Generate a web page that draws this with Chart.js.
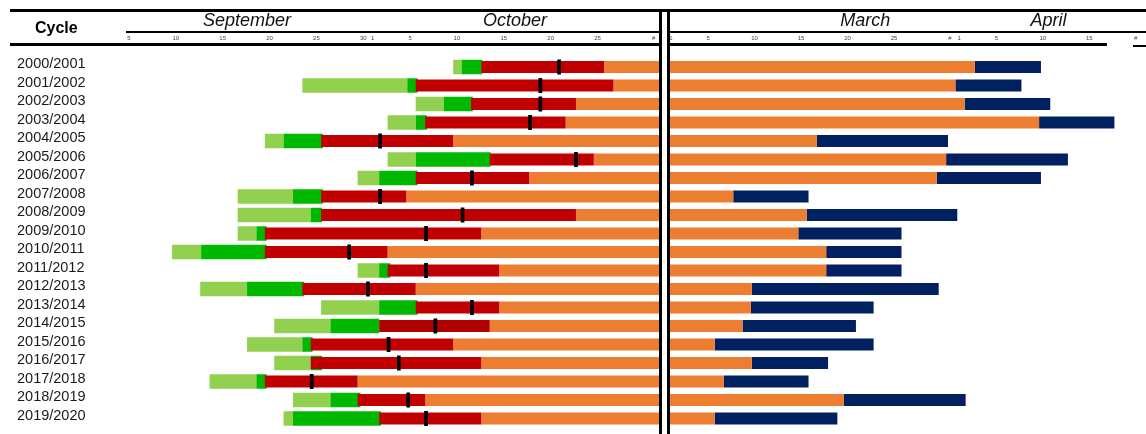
<!DOCTYPE html>
<html>
<head>
<meta charset="utf-8">
<title>Cycle chart</title>
<script src="https://cdn.jsdelivr.net/npm/chart.js@4.4.1/dist/chart.umd.min.js"></script>
<style>
  html, body { margin: 0; padding: 0; background: #fff; }
  #wrap { position: relative; width: 1146px; height: 434px; overflow: hidden; }
  canvas { position: absolute; top: 0; }
  #autumn { left: 0; }
  #spring { left: 669px; }
  .rule { position: absolute; background: #000; }
  #cycle { position: absolute; left: 35px; top: 20px; font: bold 16px/16px 'Liberation Sans', Arial, sans-serif; color: #000; }
</style>
</head>
<body>
<div id="wrap">
  <canvas id="autumn" width="660" height="434"></canvas>
  <canvas id="spring" width="477" height="434"></canvas>
  <div class="rule" style="left:10px;top:9px;width:1136px;height:3px"></div>
  <div class="rule" style="left:10px;top:43px;width:650px;height:3px"></div>
  <div class="rule" style="left:668px;top:43px;width:439px;height:3px"></div>
  <div class="rule" style="left:1133px;top:45px;width:13px;height:2px"></div>
  <div class="rule" style="left:659px;top:9px;width:3px;height:425px"></div>
  <div class="rule" style="left:667px;top:9px;width:3px;height:425px"></div>
  <div id="cycle">Cycle</div>
</div>
<script>
// Cycles (rows)
const cycles = ['2000/2001', '2001/2002', '2002/2003', '2003/2004', '2004/2005',
                '2005/2006', '2006/2007', '2007/2008', '2008/2009', '2009/2010',
                '2010/2011', '2011/2012', '2012/2013', '2013/2014', '2014/2015',
                '2015/2016', '2016/2017', '2017/2018', '2018/2019', '2019/2020'];

// Autumn phases, days counted from 31 August (1 = 1 Sep, 31 = 1 Oct)
const lightGreenStart = [39.6, 23.5, 35.6, 32.6, 19.5, 32.6, 29.4, 16.6, 16.6, 16.6,
                          9.6, 29.4, 12.6, 25.5, 20.5, 17.6, 20.5, 13.6, 22.5, 21.5];
const greenStart      = [40.5, 34.7, 38.6, 35.6, 21.5, 35.6, 31.7, 22.5, 24.4, 18.6,
                         12.7, 31.7, 17.6, 31.7, 26.5, 23.5, 24.4, 18.6, 26.5, 22.5];
const greenEnd        = [42.7, 35.8, 41.7, 36.8, 25.7, 43.6, 35.8, 25.7, 25.6, 19.7,
                         19.7, 32.9, 23.7, 35.8, 31.7, 24.6, 25.6, 19.7, 29.7, 31.9];
const redStart        = [42.6, 35.6, 41.5, 36.6, 25.5, 43.5, 35.6, 25.5, 25.5, 19.5,
                         19.5, 32.6, 23.5, 35.6, 31.7, 24.4, 24.4, 19.5, 29.4, 31.7];
const orangeStart     = [55.7, 56.7, 52.7, 51.6, 39.6, 54.6, 47.7, 34.6, 52.7, 42.6,
                         32.6, 44.5, 35.6, 44.5, 43.5, 39.6, 42.6, 29.4, 36.6, 42.6];
const markDay         = [50.9, 48.9, 48.9, 47.8, 31.8, 52.7, 41.6, 31.8, 40.6, 36.7,
                         28.5, 36.7, 30.5, 41.6, 37.7, 32.7, 33.8, 24.5, 34.8, 36.7];

// Spring phases, days counted from end of February (1 = 1 Mar, 32 = 1 Apr)
const orangeEnd = [33.7, 31.6, 32.6, 40.6, 16.7, 30.6, 29.6,  7.7, 15.6, 14.7,
                   17.7, 17.7,  9.7,  9.6,  8.7,  5.7,  9.7,  6.7, 19.6,  5.7];
const navyEnd   = [40.8, 38.7, 41.8, 48.7, 30.8, 43.7, 40.8, 15.8, 31.8, 25.8,
                   25.8, 25.8, 29.8, 22.8, 20.9, 22.8, 17.9, 15.8, 32.7, 18.9];

// Axis ranges and tick labels
const autumnMin = 4.79, autumnMax = 61.56;
const springMin = 0.79, springMax = 52.1;
const autumnTicks = [5, 10, 15, 20, 25, 30, 31, 35, 40, 45, 50, 55, 61];
const autumnTickLabels = ['5', '10', '15', '20', '25', '30', '1', '5', '10', '15', '20', '25', '#'];
const springTicks = [1, 5, 10, 15, 20, 25, 31, 32, 36, 41, 46, 51];
const springTickLabels = ['1', '5', '10', '15', '20', '25', '#', '1', '5', '10', '15', '#'];
const autumnMonths = ['September', 'October'];
const autumnMonthPos = [17.6, 46.2];
const springMonths = ['March', 'April'];
const springMonthPos = [21.9, 41.6];
const darkRedCycles = ['2014/2015'];

const FONT = "'Liberation Sans', Arial, sans-serif";
const markHalf = 0.2;

function spans(starts, ends) {
    return starts.map((s, i) => [s, Array.isArray(ends) ? ends[i] : ends]);
}

function bar(label, data, color, thickness) {
    return {
        label: label,
        data: data,
        backgroundColor: color,
        grouped: false,
        categoryPercentage: 1,
        barPercentage: thickness,
        borderWidth: 0
    };
}

function makeChart(canvasId, cfg) {
    const ctx = document.getElementById(canvasId).getContext('2d');
    return new Chart(ctx, {
        type: 'bar',
        data: { labels: cycles, datasets: cfg.datasets },
        options: {
            indexAxis: 'y',
            responsive: false,
            animation: false,
            layout: { padding: cfg.padding },
            plugins: { legend: { display: false }, tooltip: { enabled: false } },
            scales: {
                y: {
                    type: 'category',
                    display: cfg.showY,
                    offset: true,
                    grid: { display: false },
                    border: { display: false },
                    ticks: {
                        autoSkip: false,
                        crossAlign: 'far',
                        labelOffset: -3,
                        padding: 0,
                        color: '#1a1a1a',
                        font: { family: FONT, size: 14.5 }
                    },
                    afterFit: s => {
                        s.width = cfg.showY ? 110 : 0;
                        s.paddingTop = 0;
                        s.paddingBottom = 0;
                    }
                },
                month: {
                    type: 'linear',
                    axis: 'x',
                    position: 'top',
                    weight: 2,
                    min: cfg.min,
                    max: cfg.max,
                    grid: { display: false, drawTicks: false },
                    border: { display: true, color: '#000', width: 2 },
                    afterBuildTicks: s => { s.ticks = cfg.monthPos.map(v => ({ value: v })); },
                    ticks: {
                        autoSkip: false,
                        maxRotation: 0,
                        padding: 0,
                        color: '#111',
                        font: { family: FONT, size: 18, style: 'italic', lineHeight: 1.2 },
                        callback: (v, i) => cfg.months[i]
                    },
                    afterFit: s => { s.height = 20; s.paddingLeft = 0; s.paddingRight = 0; }
                },
                x: {
                    type: 'linear',
                    position: 'top',
                    weight: 1,
                    min: cfg.min,
                    max: cfg.max,
                    grid: { display: false, drawTicks: false },
                    border: { display: false },
                    afterBuildTicks: s => { s.ticks = cfg.ticks.map(v => ({ value: v })); },
                    ticks: {
                        autoSkip: false,
                        maxRotation: 0,
                        padding: 16.15,
                        color: '#444',
                        font: { family: FONT, size: 6, lineHeight: 1.2 },
                        callback: (v, i) => cfg.tickLabels[i]
                    },
                    afterFit: s => { s.height = 25.75; s.paddingLeft = 0; s.paddingRight = 0; }
                }
            }
        }
    });
}

// Left panel: September / October
makeChart('autumn', {
    showY: true,
    min: autumnMin, max: autumnMax,
    ticks: autumnTicks, tickLabels: autumnTickLabels,
    months: autumnMonths, monthPos: autumnMonthPos,
    padding: { left: 17, right: 1, top: 12, bottom: 6.25 },
    datasets: [
        bar('Mark', markDay.map(d => [d - markHalf, d + markHalf]), '#000000', 0.81),
        bar('Red', spans(redStart, orangeStart),
            c => darkRedCycles.includes(cycles[c.dataIndex]) ? '#B00000' : '#C00000', 0.65),
        bar('Green', spans(greenStart, greenEnd), '#00B800', 0.79),
        bar('Light green', spans(lightGreenStart, greenStart), '#92D050', 0.79),
        bar('Orange', spans(orangeStart, autumnMax), '#ED7D31', 0.65)
    ]
});

// Right panel: March / April
makeChart('spring', {
    showY: false,
    min: springMin, max: springMax,
    ticks: springTicks, tickLabels: springTickLabels,
    months: springMonths, monthPos: springMonthPos,
    padding: { left: 0, right: 0, top: 12, bottom: 6.25 },
    datasets: [
        bar('Orange', orangeEnd.map(e => [springMin, e]), '#ED7D31', 0.65),
        bar('Navy', spans(orangeEnd, navyEnd), '#002060', 0.65)
    ]
});
</script>
</body>
</html>
